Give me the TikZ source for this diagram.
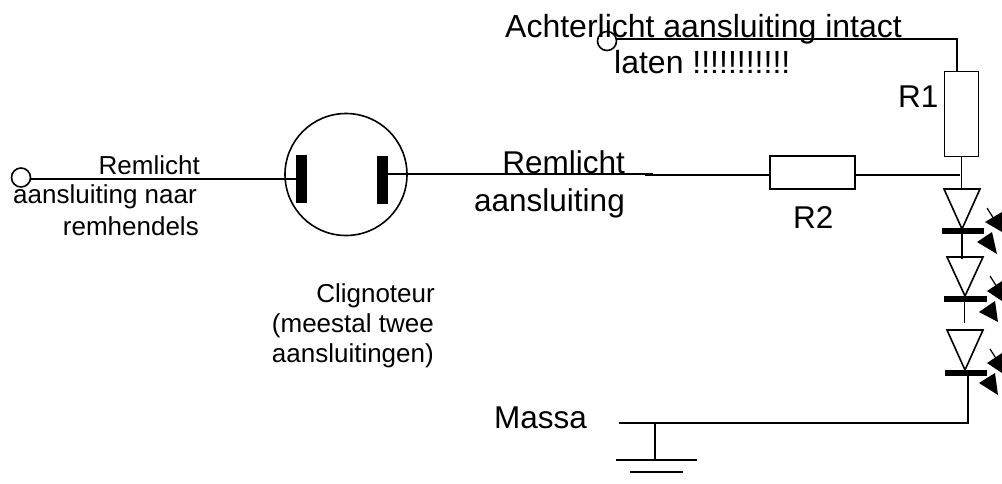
\documentclass[tikz,border=0pt]{standalone}
\usepackage{fontspec}
\setmainfont{Liberation Sans}
\tikzset{
  wire/.style={line width=1.6pt,line cap=butt},
  term/.style={circle,draw,line width=1.6pt,fill=white,minimum size=19pt,inner sep=0pt},
  resistor/.style={draw,line width=1.6pt,inner sep=0pt},
  bar/.style={fill=black,draw=none,inner sep=0pt},
  tri/.style={line width=1.6pt,line join=miter},
  ray/.style={fill=black,draw=none},
  small/.style={inner sep=0pt,font=\fontsize{26}{26}\selectfont},
  big/.style={inner sep=0pt,font=\fontsize{31.5}{31.5}\selectfont},
  bigtop/.style={inner sep=0pt,font=\fontsize{32}{32}\selectfont}
}
\begin{document}
\begin{tikzpicture}[x=1pt,y=-1pt]
\useasboundingbox (0,0) rectangle (1002,483);
% nodes
\node[term] (tl) at (21,177.5) {};
\node[term] (tt) at (607,41) {};
\node[circle,draw,line width=1.6pt,minimum size=122pt,inner sep=0pt] (clig) at (346,174.5) {};
\node[bar,minimum width=11pt,minimum height=48pt] (bl) at (301.5,179) {};
\node[bar,minimum width=11pt,minimum height=48pt] (br) at (382.5,180) {};
\node[resistor,minimum width=34pt,minimum height=85pt] (r1) at (961.5,114) {};
\node[resistor,minimum width=85pt,minimum height=33pt] (r2) at (812.5,172.5) {};
\coordinate (top) at (957,39);
\coordinate (j) at (960,175);
\coordinate (w1) at (653,174);
\coordinate (w2) at (645,175);
\coordinate (mass) at (968,423);
\coordinate (masl) at (619,423);
\coordinate (gt) at (655,423);
\coordinate (gb) at (655,460);
\draw[wire] (tl.east |- 0,179) -- (bl.west |- 0,179);
\draw[wire] (tt.east |- top) -- (top) -- (top |- r1.north);
\draw[line width=1.1pt] (br.east |- 0,174) -- (w1);
\draw[wire] (w2) -- (r2.west |- w2);
\draw[wire] (r2.east |- j) -- (j);
\draw[wire] (r1.south) -- (961.5,189);
% LED 1
\draw[wire] (962,229) -- (962,259);
\draw[tri] (944,189) -- (980,189) -- (962,229) -- cycle;
\node[bar,minimum width=42pt,minimum height=6pt] (b1) at (963,231) {};
\fill[ray] (985,222) -- (1002,212) -- (1002,232) -- cycle;
\draw[line width=1.2pt] (987,208) -- (994,219);
\fill[ray] (977,242) -- (992,232) -- (997,254) -- cycle;
% LED 2
\draw[wire] (964.5,296) -- (964.5,323);
\draw[tri] (947,257) -- (983,257) -- (965,296) -- cycle;
\node[bar,minimum width=43pt,minimum height=6pt] (b2) at (965.5,299) {};
\fill[ray] (987,291) -- (1002,281) -- (1002,301) -- cycle;
\draw[line width=1.2pt] (990,276) -- (997,287);
\fill[ray] (979,312) -- (995,301) -- (998,322) -- cycle;
% LED 3
\draw[wire] (968,372) -- (mass) -- (masl);
\draw[tri] (947,330) -- (983,330) -- (965,370) -- cycle;
\node[bar,minimum width=42pt,minimum height=6pt] (b3) at (966,373) {};
\fill[ray] (987,363) -- (1002,353) -- (1002,373) -- cycle;
\draw[line width=1.2pt] (990,349) -- (997,360);
\fill[ray] (979,383) -- (995,373) -- (998,395) -- cycle;
% ground
\draw[wire] (gt) -- (gb);
\draw[wire] (616,460) -- (697,460);
\draw[wire] (630,472) -- (683,472);
% texts
\node[bigtop,anchor=base west] (t1) at (505,37) {Achterlicht aansluiting intact};
\node[bigtop,anchor=base west] (t2) at (614,73) {laten !!!!!!!!!!!};
\node[small,anchor=base east] (t3) at (200,174) {Remlicht};
\node[small,anchor=base east] (t4) at (197,203) {aansluiting naar};
\node[small,anchor=base east] (t5) at (199,235) {remhendels};
\node[small,anchor=base east] (t6) at (435,302) {Clignoteur};
\node[small,anchor=base east] (t7) at (434,332) {(meestal twee};
\node[small,anchor=base east] (t8) at (434,362) {aansluitingen)};
\node[big,anchor=base east] (t9) at (625,173) {Remlicht};
\node[big,anchor=base east] (t10) at (625,211) {aansluiting};
\node[big,anchor=base west] (t11) at (898,107) {R1};
\node[big,anchor=base west] (t12) at (793,228) {R2};
\node[big,anchor=base west] (t13) at (494,428) {Massa};
\end{tikzpicture}
\end{document}
